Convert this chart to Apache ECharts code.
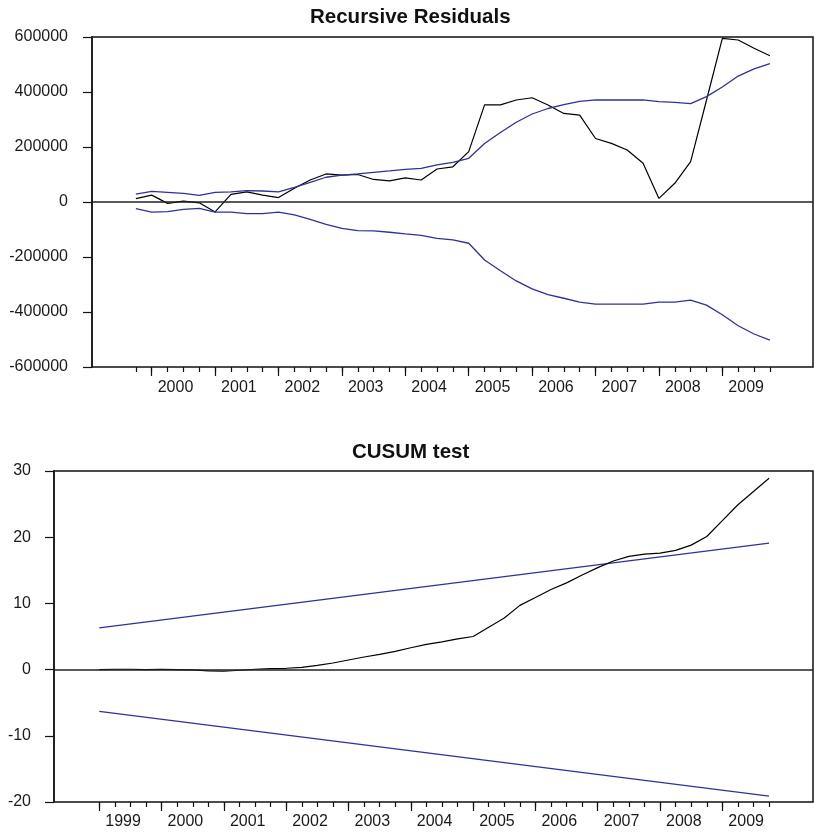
<!DOCTYPE html>
<html>
<head>
<meta charset="utf-8">
<script src="https://cdn.jsdelivr.net/npm/echarts@6/dist/echarts.min.js"></script>
<style>
  html, body { margin: 0; padding: 0; background: #ffffff; }
  #chart { width: 814px; height: 832px; }
</style>
</head>
<body>
<div id="chart"></div>
<script>
// ---- Recursive residuals with ±2 S.E. bands, quarterly 1999Q4–2009Q4 ----
const residStartQuarter = '1999Q4';
const residuals = [12000, 25000, -5000, 3000, -3000, -36000, 28000, 37000, 25000, 16000,
                   50000, 80000, 102000, 98000, 100000, 82000, 77000, 88000, 80000, 120000,
                   128000, 183000, 353000, 353000, 371000, 379000, 353000, 322000, 316000, 231000,
                   213000, 189000, 141000, 13000, 68000, 147000, 370000, 595000, 589000, 559000,
                   532000];
const residUpper = [29000, 39000, 35000, 31000, 24000, 35000, 37000, 41000, 40000, 37000,
                    53000, 71000, 90000, 98000, 102000, 108000, 113000, 119000, 122000, 135000,
                    144000, 159000, 213000, 253000, 290000, 320000, 340000, 354000, 366000, 371000,
                    371000, 371000, 371000, 365000, 362000, 358000, 383000, 418000, 458000, 484000,
                    503000];
const residLower = [-24000, -37000, -35000, -27000, -23000, -37000, -37000, -42000, -42000, -37000,
                    -47000, -63000, -81000, -96000, -104000, -105000, -110000, -116000, -121000, -132000,
                    -138000, -150000, -211000, -250000, -287000, -316000, -337000, -350000, -364000, -371000,
                    -371000, -371000, -371000, -364000, -364000, -357000, -375000, -410000, -450000, -480000,
                    -502000];
const residYears = ['2000', '2001', '2002', '2003', '2004', '2005', '2006', '2007', '2008', '2009'];
const residYTicks = [-600000, 600000, 200000];   // min, max, step

// ---- CUSUM statistic with 5% significance lines, quarterly 1999Q1–2009Q4 ----
const cusumStartQuarter = '1999Q1';
const cusum = [0, 0.05, 0.05, 0, 0.05, 0, -0.05, -0.2, -0.25, -0.1,
               0.05, 0.15, 0.2, 0.35, 0.65, 1.0, 1.45, 1.9, 2.3, 2.75,
               3.3, 3.8, 4.2, 4.65, 5.0, 6.4, 7.8, 9.7, 10.9, 12.1,
               13.1, 14.3, 15.4, 16.4, 17.1, 17.45, 17.6, 18.0, 18.8, 20.1,
               22.5, 24.9, 26.9, 28.9];
const cusumBandQuarters = ['1999Q1', '2009Q4'];
const cusumUpper = [6.3, 19.1];
const cusumLower = [-6.3, -19.1];
const cusumYears = ['1999', '2000', '2001', '2002', '2003', '2004', '2005', '2006', '2007', '2008', '2009'];
const cusumYTicks = [-20, 30, 10];

// ---- quarter helpers: x is measured in quarters since 1999Q1 ----
const BASE_YEAR = 1999;
function qIndex(label) {
  const y = parseInt(label.slice(0, 4), 10);
  const q = parseInt(label.slice(5), 10);
  return (y - BASE_YEAR) * 4 + (q - 1);
}
function quarterSeq(startLabel, n) {
  const s = qIndex(startLabel);
  const out = [];
  for (let k = 0; k < n; k++) out.push(s + k);
  return out;
}
function pairs(xs, ys) { return ys.map((v, k) => [xs[k], v]); }

const residX = quarterSeq(residStartQuarter, residuals.length);
const cusumX = quarterSeq(cusumStartQuarter, cusum.length);
const cusumBandX = cusumBandQuarters.map(qIndex);
const residYearX = residYears.map(y => qIndex(y + 'Q1'));
const cusumYearX = cusumYears.map(y => qIndex(y + 'Q1'));

const FONT = 'Liberation Sans, Arial, Helvetica, sans-serif';
const INK = '#111111';
const BAND = '#30309c';

function xAxes(gridIndex, min, max, quarterTicks, yearTicks, labelMargin) {
  return [
    {
      type: 'value', gridIndex, min, max, position: 'bottom',
      axisLine: { show: false, onZero: false }, splitLine: { show: false },
      axisTick: { show: true, customValues: quarterTicks, length: 5, lineStyle: { color: INK, width: 1.2 } },
      axisLabel: { show: false }
    },
    {
      type: 'value', gridIndex, min, max, position: 'bottom',
      axisLine: { show: false, onZero: false }, splitLine: { show: false },
      axisTick: { show: true, customValues: yearTicks, length: 9, lineStyle: { color: INK, width: 1.2 } },
      axisLabel: {
        show: true, customValues: yearTicks,
        formatter: v => String(BASE_YEAR + Math.round(v / 4)),
        align: 'left', padding: [0, 0, 0, 6], margin: labelMargin,
        fontFamily: FONT, fontSize: 16, color: '#1a1a1a'
      }
    }
  ];
}

function yAxis(gridIndex, ticks, labelMargin) {
  return {
    type: 'value', gridIndex, min: ticks[0], max: ticks[1], interval: ticks[2],
    position: 'left',
    axisLine: { show: true, onZero: false, lineStyle: { color: '#222', width: 2 } },
    axisTick: { show: true, inside: false, length: 9, lineStyle: { color: INK, width: 1.2 } },
    splitLine: { show: false },
    axisLabel: {
      margin: labelMargin, fontFamily: FONT, fontSize: 16, color: '#1a1a1a',
      formatter: v => String(v)
    }
  };
}

function bandSeries(name, xi, yi, data) {
  return {
    name, type: 'line', xAxisIndex: xi, yAxisIndex: yi, data,
    showSymbol: false, symbol: 'none', silent: true,
    lineStyle: { color: BAND, width: 1.3 }, z: 3
  };
}

const zeroLine = {
  silent: true, symbol: ['none', 'none'], label: { show: false },
  lineStyle: { color: '#222', width: 1.5, type: 'solid' },
  data: [{ yAxis: 0 }]
};

const chart = echarts.init(document.getElementById('chart'), null, { renderer: 'canvas' });
chart.setOption({
  animation: false,
  backgroundColor: '#ffffff',
  title: [
    { text: 'Recursive Residuals', left: 310, top: 6.6, padding: 0,
      textStyle: { fontFamily: FONT, fontSize: 20.5, fontWeight: 'bold', color: INK } },
    { text: 'CUSUM test', left: 352, top: 442.3, padding: 0,
      textStyle: { fontFamily: FONT, fontSize: 20.5, fontWeight: 'bold', color: INK } }
  ],
  grid: [
    { left: 92, top: 37, width: 721, height: 330, show: true, borderColor: INK, borderWidth: 1.5, backgroundColor: 'transparent' },
    { left: 54, top: 471, width: 759, height: 331, show: true, borderColor: INK, borderWidth: 1.5, backgroundColor: 'transparent' }
  ],
  xAxis: [
    ...xAxes(0, 0.233, 45.72, residX, residYearX, 12.5),
    ...xAxes(1, -2.908, 45.82, cusumX, cusumYearX, 11.5)
  ],
  yAxis: [
    yAxis(0, residYTicks, 24),
    yAxis(1, cusumYTicks, 23)
  ],
  series: [
    {
      name: 'Recursive Residuals', type: 'line', xAxisIndex: 0, yAxisIndex: 0,
      data: pairs(residX, residuals), showSymbol: false, symbol: 'none',
      lineStyle: { color: '#000000', width: 1.2 }, z: 2, markLine: zeroLine
    },
    bandSeries('+2 S.E.', 0, 0, pairs(residX, residUpper)),
    bandSeries('-2 S.E.', 0, 0, pairs(residX, residLower)),
    {
      name: 'CUSUM', type: 'line', xAxisIndex: 2, yAxisIndex: 1,
      data: pairs(cusumX, cusum), showSymbol: false, symbol: 'none',
      lineStyle: { color: '#000000', width: 1.2 }, z: 4, markLine: zeroLine
    },
    bandSeries('5% upper', 2, 1, pairs(cusumBandX, cusumUpper)),
    bandSeries('5% lower', 2, 1, pairs(cusumBandX, cusumLower))
  ]
});
</script>
</body>
</html>
